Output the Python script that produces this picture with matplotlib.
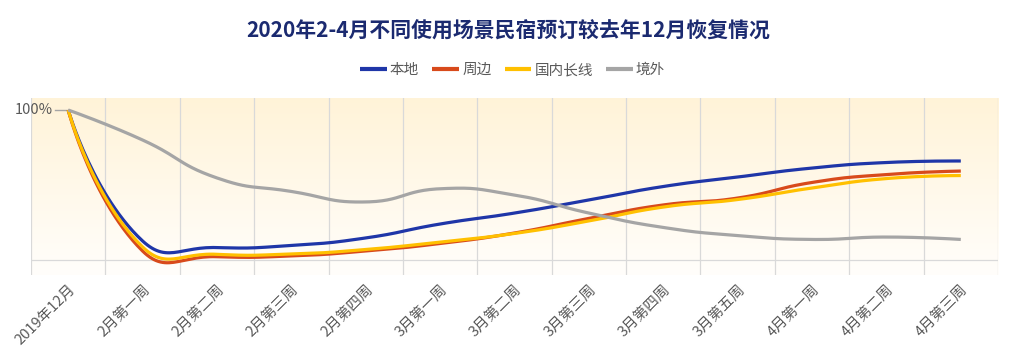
import numpy as np
import matplotlib
matplotlib.use('Agg')
import matplotlib.pyplot as plt
from matplotlib.colors import LinearSegmentedColormap

plt.rcParams['font.family'] = ['Noto Sans CJK SC', 'DejaVu Sans']

title = '2020年2-4月不同使用场景民宿预订较去年12月恢复情况'
categories = ['2019年12月', '2月第一周', '2月第二周', '2月第三周', '2月第四周',
              '3月第一周', '3月第二周', '3月第三周', '3月第四周', '3月第五周',
              '4月第一周', '4月第二周', '4月第三周']

# values in % of December 2019 level
local = [100, 12.7, 8.3, 9.7, 14.7, 24.0, 31.3, 40.0, 49.0, 55.3, 61.3, 65.0, 66.0]
nearby = [100, 6.0, 2.2, 2.7, 6.0, 11.0, 18.0, 27.7, 36.7, 41.3, 51.7, 57.0, 59.3]
domestic_long = [100, 8.7, 3.8, 4.0, 7.0, 12.0, 17.7, 26.0, 35.3, 40.3, 48.0, 54.3, 56.3]
overseas = [100, 80.0, 54.7, 45.7, 38.7, 47.5, 43.3, 31.3, 21.7, 16.3, 13.7, 15.3, 13.7]

series_names = ['本地', '周边', '国内长线', '境外']
series_values = [local, nearby, domestic_long, overseas]
colors = ['#1f36a8', '#d84a1b', '#ffc000', '#a5a5a5']


def smooth_curve(xs, ys, smooth=0.5, sx=74.4, sy=1.5, n=30):
    # bezier smoothing done in pixel-like units so the shape matches the screen
    pts = np.column_stack([np.asarray(xs, float) * sx, np.asarray(ys, float) * sy])
    out = [pts[0]]
    cp0 = pts[0].copy()
    t = np.linspace(0, 1, n)[1:, None]
    for i in range(1, len(pts)):
        p = pts[i]
        prev = pts[i - 1]
        if i + 1 < len(pts):
            nxt = pts[i + 1]
            v = nxt - prev
            l0 = np.hypot(*(p - prev))
            l1 = np.hypot(*(p - nxt))
            r = l1 / (l0 + l1)
            cp1 = p - v * smooth * (1 - r)
            next_cp0 = p + v * smooth * r
        else:
            cp1 = p.copy()
            next_cp0 = p
        seg = (1 - t) ** 3 * prev + 3 * (1 - t) ** 2 * t * cp0 + 3 * (1 - t) * t ** 2 * cp1 + t ** 3 * p
        out.extend(seg)
        cp0 = next_cp0
    out = np.array(out)
    return out[:, 0] / sx, out[:, 1] / sy


fig = plt.figure(figsize=(10.13, 3.51), dpi=100)
ax = fig.add_axes([31 / 1013, 1 - 275 / 351, 967 / 1013, 177 / 351])
ax.set_xlim(-0.5, len(categories) - 0.5)
ax.set_ylim(-10, 108)

# gradient background of the plot area
grad = LinearSegmentedColormap.from_list('bg', ['#fffefb', '#fff3d8'])
ax.imshow(np.linspace(0, 1, 256).reshape(-1, 1), cmap=grad, origin='lower',
          extent=(-0.5, len(categories) - 0.5, -10, 108), aspect='auto', zorder=0)

for b in np.arange(-0.5, len(categories), 1.0):
    ax.axvline(b, color='#d9d9d9', lw=0.9, zorder=1)
ax.axhline(0, color='#d9d9d9', lw=0.9, zorder=1)

x = np.arange(len(categories))
for name, vals, col in zip(series_names, series_values, colors):
    sx_, sy_ = smooth_curve(x, vals)
    ax.plot(sx_, sy_, color=col, lw=2.3, label=name, zorder=3, solid_capstyle='butt')

# 100% label with its short leader
ax.plot([-0.175, 0], [100, 100], color='#a5a5a5', lw=1, zorder=2)
ax.text(-0.21, 100, '100%', ha='right', va='center', fontsize=10.5, color='#595959')

for s in ax.spines.values():
    s.set_visible(False)
ax.set_yticks([])
ax.set_xticks(x)
ax.set_xticklabels(categories, rotation=45, ha='right', rotation_mode='anchor',
                   fontsize=10.5, color='#595959')
ax.tick_params(axis='x', length=0, pad=5)

fig.text(0.502, 1 - 31 / 351, title, ha='center', va='center', fontsize=15,
         fontweight='bold', color='#1b2a70')
leg = fig.legend(loc='center', bbox_to_anchor=(0.506, 1 - 70 / 351), ncol=4, frameon=False,
                 fontsize=10.5, handlelength=1.85, handletextpad=0.2, columnspacing=0.9,
                 labelcolor='#595959')
for h in leg.get_lines():
    h.set_linewidth(3)

fig.savefig('out.png', dpi=100, facecolor='white')
